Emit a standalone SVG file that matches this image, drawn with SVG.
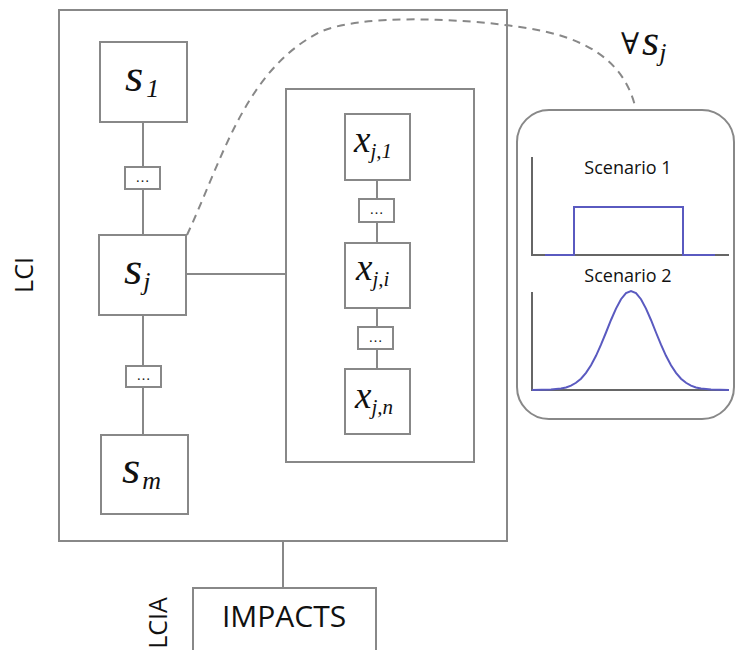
<svg xmlns="http://www.w3.org/2000/svg" width="735" height="650" viewBox="0 0 735 650">
<style>
.box{fill:#fff;stroke:#888;stroke-width:2}
.frame{fill:none;stroke:#888;stroke-width:2}
.ln{fill:none;stroke:#888;stroke-width:2}
.dash{fill:none;stroke:#888;stroke-width:2;stroke-dasharray:8 6}
.axis{fill:none;stroke:#666;stroke-width:2}
.blue{fill:none;stroke:#5a5ac0;stroke-width:2}
.m{font-family:"Liberation Serif","Times New Roman",serif;font-style:italic;fill:#111}
.dots{font-family:"Liberation Serif",serif;font-size:14px;fill:#111;text-anchor:middle}
.sans{font-family:"Open Sans","Liberation Sans",sans-serif;fill:#111}
</style>
<g id="connectors">
<line class="ln" x1="143" y1="122" x2="143" y2="167"/>
<line class="ln" x1="143" y1="189" x2="143" y2="235"/>
<line class="ln" x1="143" y1="315" x2="143" y2="366"/>
<line class="ln" x1="143" y1="387" x2="143" y2="435"/>
<line class="ln" x1="186" y1="274" x2="286" y2="274"/>
<line class="ln" x1="377" y1="180" x2="377" y2="199"/>
<line class="ln" x1="377" y1="222" x2="377" y2="243"/>
<line class="ln" x1="377" y1="308" x2="377" y2="327"/>
<line class="ln" x1="377" y1="349" x2="377" y2="369"/>
<line class="ln" x1="283" y1="541" x2="283" y2="588"/>
<path class="dash" d="M187,235 C222,160 245,70 320,32 C360,14 460,18 520,27 C585,36 625,60 636,110"/>
</g>
<g id="lci">
<rect class="frame" x="59" y="10" width="448" height="531"/>
<text class="sans" font-size="25" text-anchor="middle" transform="translate(33,275) rotate(-90)">LCI</text>
</g>
<g id="s1">
<rect class="box" x="100" y="42" width="87" height="80"/>
<text class="m" x="125" y="91" font-size="47">s<tspan font-size="26" dx="3" dy="6">1</tspan></text>
</g>
<g id="dots1">
<rect class="box" x="125" y="167" width="35" height="22"/>
<text class="dots" x="142.5" y="182">…</text>
</g>
<g id="sj">
<rect class="box" x="99" y="235" width="87" height="80"/>
<text class="m" x="124" y="284" font-size="47">s<tspan font-size="26" dx="1" dy="6">j</tspan></text>
</g>
<g id="dots2">
<rect class="box" x="126" y="366" width="35" height="21"/>
<text class="dots" x="143.5" y="380">…</text>
</g>
<g id="sm">
<rect class="box" x="101" y="435" width="87" height="79"/>
<text class="m" x="122" y="483" font-size="47">s<tspan font-size="26" dx="2" dy="6">m</tspan></text>
</g>
<g id="inner">
<rect class="frame" x="286" y="89" width="188" height="373"/>
</g>
<g id="xj1">
<rect class="box" x="345" y="114" width="65" height="66"/>
<text class="m" x="354" y="152" font-size="37">x<tspan font-size="21" dy="6">j,1</tspan></text>
</g>
<g id="dots3">
<rect class="box" x="359" y="199" width="35" height="23"/>
<text class="dots" x="376.5" y="214">…</text>
</g>
<g id="xji">
<rect class="box" x="345" y="243" width="65" height="65"/>
<text class="m" x="356" y="280" font-size="37">x<tspan font-size="21" dy="6">j,i</tspan></text>
</g>
<g id="dots4">
<rect class="box" x="358" y="327" width="35" height="22"/>
<text class="dots" x="375.5" y="342">…</text>
</g>
<g id="xjn">
<rect class="box" x="345" y="369" width="65" height="65"/>
<text class="m" x="355" y="408" font-size="37">x<tspan font-size="21" dy="6">j,n</tspan></text>
</g>
<g id="forall">
<text x="621" y="54" font-size="30" font-family="'DejaVu Serif',serif" fill="#111">∀</text>
<text class="m" x="642" y="55" font-size="44">s<tspan font-size="26" dy="6">j</tspan></text>
</g>
<g id="scenarios">
<rect class="box" x="517" y="110" width="217" height="309" rx="32"/>
<text class="sans" x="628" y="174" font-size="18" text-anchor="middle">Scenario 1</text>
<polyline class="axis" points="532,157 532,255 729,255"/>
<path class="blue" d="M545,255 H574 V207 H683 V255 H715"/>
<text class="sans" x="628" y="282" font-size="18" text-anchor="middle">Scenario 2</text>
<polyline class="axis" points="532,292 532,390 729,390"/>
<polyline class="blue" points="532,390 551,389.6 561,388.6 566,387.5 571,385.7 576,382.8 581,378.7 586,372.9 591,365.3 596,355.8 601,344.7 606,332.5 611,320 616,308.6 621,299.2 626,293.1 631,291 636,293.1 641,299.2 646,308.6 651,320 656,332.5 661,344.7 666,355.8 671,365.3 676,372.9 681,378.7 686,382.8 691,385.7 696,387.5 701,388.6 711,389.6 729,390"/>
</g>
<g id="impacts">
<rect class="box" x="193" y="588" width="183" height="80"/>
<text class="sans" x="284" y="627" font-size="30" text-anchor="middle">IMPACTS</text>
<text class="sans" font-size="25" text-anchor="middle" transform="translate(167,623) rotate(-90)">LCIA</text>
</g>
</svg>
